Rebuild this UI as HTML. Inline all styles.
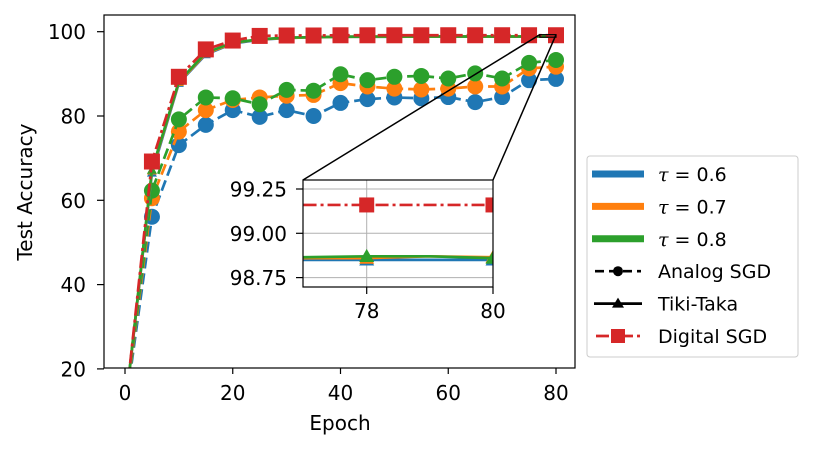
<!DOCTYPE html>
<html><head><meta charset="utf-8">
<style>
html,body{margin:0;padding:0;background:#fff;}
svg{display:block;font-family:"DejaVu Sans","Liberation Sans",sans-serif;}
</style></head>
<body>
<svg id="chart" width="814" height="451" viewBox="0 0 814 451" xmlns="http://www.w3.org/2000/svg">
<defs>
<clipPath id="mainClip"><rect x="104" y="15" width="471" height="353"/></clipPath>
<clipPath id="insetClip"><rect x="303" y="180" width="190" height="107"/></clipPath>
</defs>
<g id="main"></g>
<g id="inset"></g>
<g id="legend"></g>
</svg>
<script>
const epochs = [0,5,10,15,20,25,30,35,40,45,50,55,60,65,70,75,80];
const analog06 = [10,56.1,73.1,77.9,81.4,79.8,81.4,80,83.1,84,84.4,84.2,84.5,83.3,84.5,88.5,88.8];
const analog07 = [10,60.5,76.3,81.4,83.8,84.4,84.8,85,87.8,87,86.5,86.3,86.5,87,87,91.3,91.7];
const analog08 = [10,62.3,79.2,84.4,84.2,82.8,86.2,86,89.9,88.5,89.3,89.5,88.9,90.1,88.9,92.6,93.3];
const tiki06 = [10,66.5,87.8,94.6,97.2,98.1,98.5,98.7,98.8,98.8,98.8,98.85,98.85,98.85,98.85,98.85,98.85];
const tiki07 = [10,67,88,94.8,97.3,98.2,98.5,98.7,98.8,98.8,98.85,98.85,98.86,98.86,98.86,98.86,98.86];
const tiki08 = [10,67.2,88.2,95,97.4,98.2,98.6,98.7,98.8,98.85,98.85,98.86,98.87,98.87,98.87,98.87,98.87];
const digital = [10,69.2,89.3,95.8,97.9,99,99.1,99.1,99.15,99.15,99.15,99.15,99.16,99.16,99.16,99.16,99.16];
const insetEpochs = [77,78,79,80];
const insetTiki06 = [98.85,98.85,98.85,98.85];
const insetTiki07 = [98.86,98.86,98.87,98.865];
const insetTiki08 = [98.865,98.87,98.87,98.86];
const insetDigital = [99.16,99.16,99.16,99.16];
const xTicks = [0,20,40,60,80];
const yTicks = [20,40,60,80,100];
const insetXTicks = [78,80];
const insetYTicks = [98.75,99.00,99.25];

const NS="http://www.w3.org/2000/svg";
const C={b:"#1f77b4",o:"#ff7f0e",g:"#2ca02c",r:"#d62728"};
const FS=20;
const DASH='11,5', DASHDOT='13,4,3,4';
function mk(parent,tag,attrs){const e=document.createElementNS(NS,tag);for(const k in attrs)e.setAttribute(k,attrs[k]);parent.appendChild(e);return e;}
const X=v=>125+(v-0)*(556-125)/80;
const Y=v=>31.7+(100-v)*(84.3/20);
const IX=v=>366.7+(v-78)*(493-366.7)/2;
const IY=v=>233.3-(v-99)*(44.3/0.25);

const main=document.getElementById('main');
const plot=mk(main,'g',{'clip-path':'url(#mainClip)'});
function series(g,xs,ys,fx,fy,color,dash,marker,name,ms){
  const pts=xs.map((x,i)=>fx(x)+','+fy(ys[i])).join(' ');
  const pl=mk(g,'polyline',{points:pts,fill:'none',stroke:color,'stroke-width':2.7,'stroke-dasharray':dash||'none'});
  
  
  xs.forEach((x,i)=>{
    if(x===0) return;
    const cx=fx(x),cy=fy(ys[i]);let m;
    if(marker==='circle') m=mk(g,'circle',{cx,cy,r:ms,fill:color});
    else if(marker==='square') m=mk(g,'rect',{x:cx-ms,y:cy-ms,width:2*ms,height:2*ms,fill:color});
    else m=mk(g,'polygon',{points:`${cx},${cy-ms} ${cx-ms},${cy+ms*0.75} ${cx+ms},${cy+ms*0.75}`,fill:color});
    
    
  });
}
series(plot,epochs,analog06,X,Y,C.b,DASH,'circle','analog-tau-0.6',8);
series(plot,epochs,analog07,X,Y,C.o,DASH,'circle','analog-tau-0.7',8);
series(plot,epochs,analog08,X,Y,C.g,DASH,'circle','analog-tau-0.8',8);
series(plot,epochs,tiki06,X,Y,C.b,null,'tri','tiki-tau-0.6',5);
series(plot,epochs,tiki07,X,Y,C.o,null,'tri','tiki-tau-0.7',5);
series(plot,epochs,tiki08,X,Y,C.g,null,'tri','tiki-tau-0.8',5);
series(plot,epochs,digital,X,Y,C.r,DASHDOT,'square','digital-sgd',8);

const zb=mk(main,'rect',{x:X(77),y:Y(99.3),width:X(80)-X(77),height:Y(98.7)-Y(99.3),fill:'none',stroke:'#000','stroke-width':1.2});


const l1=mk(main,'line',{x1:303,y1:180,x2:X(77),y2:Y(99.3),stroke:'#000','stroke-width':1.5});


const l2=mk(main,'line',{x1:493,y1:180,x2:X(80),y2:Y(99.3),stroke:'#000','stroke-width':1.5});



const frame=mk(main,'rect',{x:104,y:15,width:471,height:353,fill:'none',stroke:'#000','stroke-width':1.2});


xTicks.forEach(t=>{
  mk(main,'line',{x1:X(t),y1:368,x2:X(t),y2:374,stroke:'#000','stroke-width':1.2});
  const tx=mk(main,'text',{x:X(t),y:400,'text-anchor':'middle','font-size':FS});tx.textContent=t;
  
  
});
yTicks.forEach(t=>{
  mk(main,'line',{x1:97,y1:Y(t),x2:104,y2:Y(t),stroke:'#000','stroke-width':1.2});
  const tx=mk(main,'text',{x:86,y:Y(t)+7.5,'text-anchor':'end','font-size':FS});tx.textContent=t;
  
  
});
const xt=mk(main,'text',{x:340,y:430,'text-anchor':'middle','font-size':FS});xt.textContent='Epoch';


const yt=mk(main,'text',{x:32,y:192,'text-anchor':'middle','font-size':FS,transform:'rotate(-90 32 192)'});yt.textContent='Test Accuracy';



const inset=document.getElementById('inset');
mk(inset,'rect',{x:303,y:180,width:190,height:107,fill:'#fff'});
const ip=mk(inset,'g',{'clip-path':'url(#insetClip)'});
insetXTicks.forEach(t=>mk(ip,'line',{x1:IX(t),y1:180,x2:IX(t),y2:287,stroke:'#b0b0b0','stroke-width':1}));
insetYTicks.forEach(t=>mk(ip,'line',{x1:303,y1:IY(t),x2:493,y2:IY(t),stroke:'#b0b0b0','stroke-width':1}));
function iseries(xs,ys,color,dash,marker,name,mx){
  const pts=xs.map((x,i)=>IX(x)+','+IY(ys[i])).join(' ');
  const pl=mk(ip,'polyline',{points:pts,fill:'none',stroke:color,'stroke-width':2.7,'stroke-dasharray':dash||'none'});
  
  
  xs.forEach((x,i)=>{
    if(!mx.includes(x)) return;
    const cx=IX(x),cy=IY(ys[i]),ms=7.5;let m;
    if(marker==='square') m=mk(ip,'rect',{x:cx-ms,y:cy-ms,width:2*ms,height:2*ms,fill:color});
    else m=mk(ip,'polygon',{points:`${cx},${cy-ms} ${cx-ms},${cy+ms*0.75} ${cx+ms},${cy+ms*0.75}`,fill:color});
    
    
  });
}
iseries(insetEpochs,insetTiki06,C.b,null,'tri','inset-tiki-0.6',[78,80]);
iseries(insetEpochs,insetTiki07,C.o,null,'tri','inset-tiki-0.7',[78,80]);
iseries(insetEpochs,insetTiki08,C.g,null,'tri','inset-tiki-0.8',[78,80]);
iseries(insetEpochs,insetDigital,C.r,DASHDOT,'square','inset-digital',[78,80]);
mk(inset,'rect',{x:303,y:180,width:190,height:107,fill:'none',stroke:'#000','stroke-width':1.2});
insetXTicks.forEach(t=>{
  mk(inset,'line',{x1:IX(t),y1:287,x2:IX(t),y2:294,stroke:'#000','stroke-width':1.2});
  const tx=mk(inset,'text',{x:IX(t),y:318,'text-anchor':'middle','font-size':FS});tx.textContent=t;
  
  
});
insetYTicks.forEach(t=>{
  mk(inset,'line',{x1:296,y1:IY(t),x2:303,y2:IY(t),stroke:'#000','stroke-width':1.2});
  const tx=mk(inset,'text',{x:287,y:IY(t)+7.5,'text-anchor':'end','font-size':FS});tx.textContent=t.toFixed(2);
  
  
});

const lg=document.getElementById('legend');
mk(lg,'rect',{x:587,y:156,width:211,height:201,rx:3,fill:'#fff',stroke:'#ccc','stroke-width':1});
const rows=[
 {t:'0.6',c:C.b,k:'band',n:'legend-tau-0.6'},
 {t:'0.7',c:C.o,k:'band',n:'legend-tau-0.7'},
 {t:'0.8',c:C.g,k:'band',n:'legend-tau-0.8'},
 {t:'Analog SGD',c:'#000',k:'analog',n:'legend-analog-sgd'},
 {t:'Tiki-Taka',c:'#000',k:'tiki',n:'legend-tiki-taka'},
 {t:'Digital SGD',c:C.r,k:'digital',n:'legend-digital-sgd'}];
rows.forEach((r,i)=>{
  const y=174+i*32.4;
  const g=mk(lg,'g',{});
  
  
  if(r.k==='band') mk(g,'line',{x1:592,y1:y,x2:644,y2:y,stroke:r.c,'stroke-width':7});
  else if(r.k==='analog'){mk(g,'line',{x1:595,y1:y,x2:641,y2:y,stroke:'#000','stroke-width':2.7,'stroke-dasharray':'9,5'});mk(g,'circle',{cx:618,cy:y,r:5,fill:'#000'});}
  else if(r.k==='tiki'){mk(g,'line',{x1:594,y1:y,x2:642,y2:y,stroke:'#000','stroke-width':2.7});mk(g,'polygon',{points:`618,${y-6} 612,${y+4} 624,${y+4}`,fill:'#000'});}
  else {mk(g,'line',{x1:596,y1:y,x2:640,y2:y,stroke:C.r,'stroke-width':2.7,'stroke-dasharray':'13,4,3,4'});mk(g,'rect',{x:611,y:y-7,width:14,height:14,fill:C.r});}
  const tx=mk(g,'text',{x:658,y:y+7,'font-size':FS-1});
  if(r.k==='band'){
    const a=mk(tx,'tspan',{'font-style':'italic','font-family':'"DejaVu Serif","Liberation Serif",serif'});a.textContent='τ';
    const b=mk(tx,'tspan',{});b.textContent=' = '+r.t;
  } else tx.textContent=r.t;
});
</script>
</body></html>
